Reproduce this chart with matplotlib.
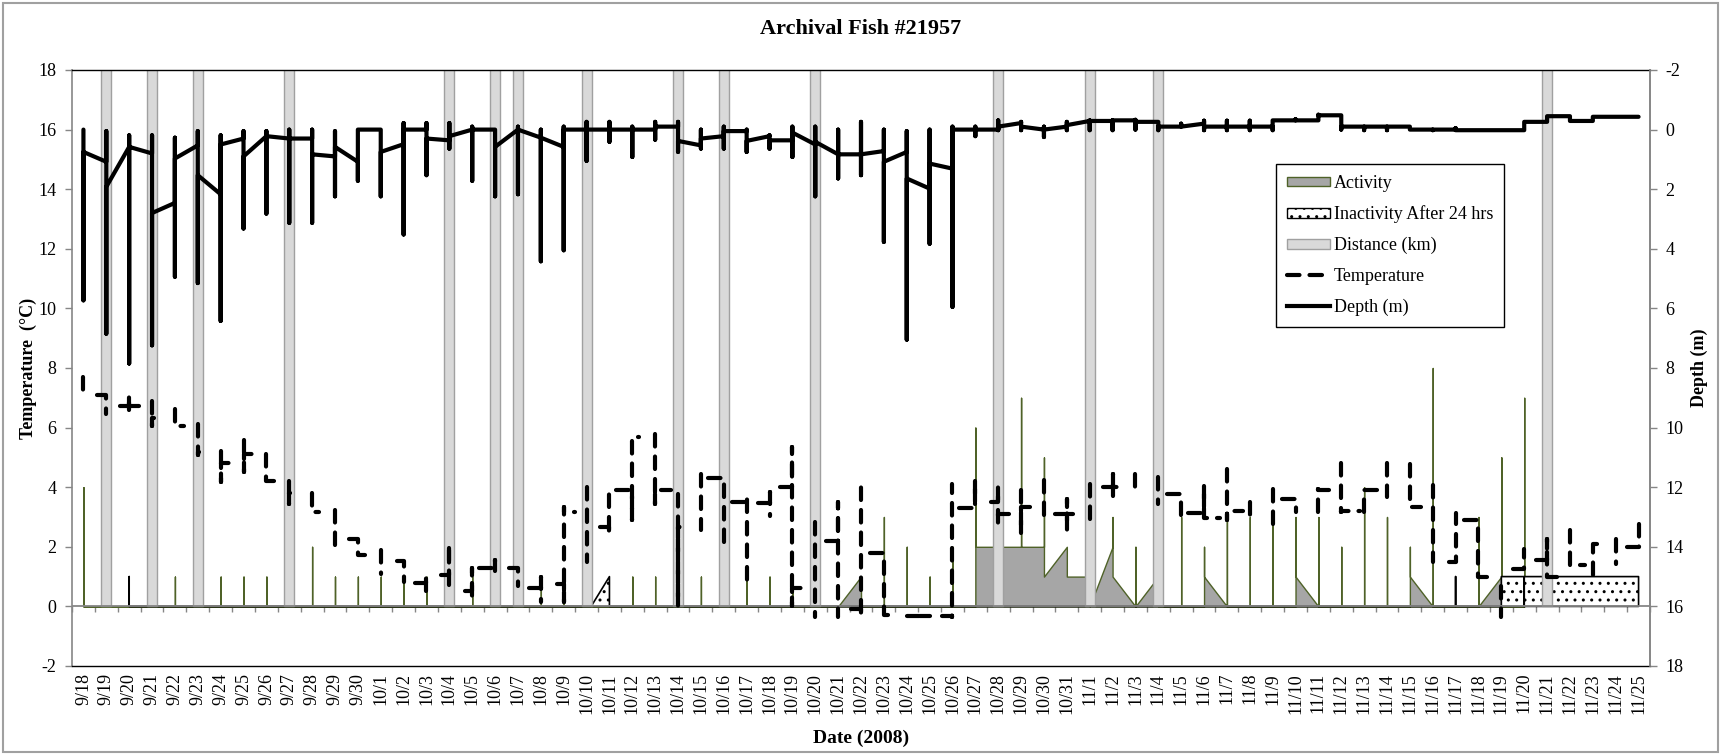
import matplotlib
matplotlib.use('Agg')
import matplotlib.pyplot as plt
import matplotlib.patches as mpatches
import matplotlib.lines as mlines
import numpy as np
import pandas as pd

plt.rcParams['font.family'] = ['Liberation Serif', 'DejaVu Serif']
plt.rcParams['hatch.linewidth'] = 1.0
plt.rcParams['axes.unicode_minus'] = False

# Dni pomiarowe 9/18 - 11/25 (2008)
dates = pd.date_range('2008-09-18', '2008-11-25')
date_labels = [f'{d.month}/{d.day}' for d in dates]

# Dystans (km) - slupki poza skala osi
distance_day = [1, 3, 5, 9, 16, 18, 19, 22, 26, 28, 32, 40, 44, 47, 64]
distance_km = [20, 20, 20, 20, 20, 20, 20, 20, 20, 20, 20, 20, 20, 20, 20]

# Aktywnosc (punkty wykresu obszarowego)
act_day = [0, 0, 0, 4, 4, 4, 6, 6, 6, 7, 7, 7, 8, 8, 8,
           10, 10, 10, 11, 11, 11, 12, 12, 12, 13, 13, 13, 14, 14, 14, 15, 15, 15,
           17, 17, 17, 20, 20, 20, 21, 21, 21, 24, 24, 24, 25, 25, 25, 27, 27, 27,
           29, 29, 29, 30, 30, 30, 31, 31, 31, 33, 34, 34, 35, 35, 35, 36, 36, 36,
           37, 37, 37, 38, 38, 38, 39, 39, 39, 41, 41, 41, 42, 42, 42, 43, 43, 44, 44,
           45, 45, 45, 46, 46, 46, 47, 47, 48, 48, 48, 49, 49, 49, 50, 50, 50,
           51, 51, 51, 52, 52, 52, 53, 53, 53, 54, 54, 54, 55, 55, 55, 56, 56, 56,
           57, 57, 57, 58, 58, 58, 59, 59, 59, 61, 61, 61, 62, 62, 62, 63, 63, 63]
act_val = [0, 4, 0, 0, 1, 0, 0, 1, 0, 0, 1, 0, 0, 1, 0,
           0, 2, 0, 0, 1, 0, 0, 1, 0, 0, 1, 0, 0, 1, 0, 0, 1, 0,
           0, 1, 0, 0, 1, 0, 0, 1, 0, 0, 1, 0, 0, 1, 0, 0, 1, 0,
           0, 1, 0, 0, 1, 0, 0, 1, 0, 0, 1, 0, 0, 3, 0, 0, 2, 0,
           0, 1, 0, 0, 2, 0, 0, 6, 2, 2, 7, 2, 2, 5, 1, 2, 1, 1, 0,
           2, 3, 1, 0, 2, 0, 1, 0, 0, 3, 0, 0, 2, 1, 0, 3, 0,
           0, 3, 0, 0, 3, 0, 0, 3, 1, 0, 3, 0, 0, 2, 0, 0, 4, 0,
           0, 3, 0, 0, 2, 1, 0, 8, 0, 0, 3, 0, 1, 5, 0, 0, 7, 0]

# Brak aktywnosci po 24 h
inact_day = [2, 2, 2, 22.2, 23, 23, 60, 60, 60, 62, 62, 63, 63, 63, 68, 68]
inact_val = [0, 1, 0, 0, 1, 0, 0, 1, 0, 0, 1, 1, 0, 1, 1, 0]

# Temperatura (°C) - odczyty w kazdym dniu (pion) + krotkie poziome odcinki
temp_day = [
    [7.7, 6.97], [7.08, 6.47], [6.71, 7.08, 6.47, 6.71], [6.9, 6.07, 6.33],
    [6.63, 6.07], [6.13, 5.07, 5.18], [5.23, 4.17, 4.81], [5.6, 4.5, 5.1],
    [5.1, 4.2], [4.2, 3.45, 3.8], [3.8, 3.17], [3.22, 1.71],
    [2.27, 1.71], [1.88, 1.1], [1.52, 0.82], [0.78, 1.04, 0.31],
    [1.07, 2.1, 0.37], [0.51, 1.3, 0.31], [1.3, 1.57, 0.96], [1.3, 0.7],
    [0.62, 0.98, 0.15], [0.76, 0.15, 3.33, 3.17], [4.0, 1.49], [2.66, 2.38, 4.0],
    [3.92, 2.89, 5.68], [5.79, 3.45, 3.92], [3.78, 0.0, 2.66], [4.45, 2.55],
    [4.32, 2.16], [3.5, 3.67, 0.7], [3.48, 3.84, 3.05], [4.0, 5.35, 0.0, 0.63],
    [2.83, -0.36], [2.2, 3.5, -0.36], [-0.08, -0.36, 4.23], [1.8, -0.3],
    [-0.33], [-0.33], [-0.33, -0.36, 4.1], [3.3, 4.23, 3.45],
    [3.5, 4.0, 2.77, 3.11], [3.92, 2.44, 3.33], [4.23, 2.83], [3.11, 3.61, 2.55, 3.11],
    [4.12, 2.77], [4.0, 4.45, 3.72, 4.0], [4.45, 3.89], [4.34, 3.45],
    [3.78, 2.89], [3.13, 4.06, 3.0, 2.98], [4.62, 2.89, 3.19], [3.5, 2.89],
    [3.95, 2.77], [3.61, 3.17], [3.17, 3.95, 3.89], [4.81, 3.17, 3.19],
    [3.17, 3.92], [4.81, 3.67], [4.77, 3.33], [4.06, 1.49],
    [1.49, 3.13], [2.91, 2.55, 0.98], [0.7, -0.36], [1.26, 1.94],
    [1.57, 2.27, 1.2, 0.98], [2.55, 1.77, 1.4], [1.04, 2.1], [2.27, 1.43],
    [1.99, 2.55, 2.94],
]
# dlugosc odcinka w lewo / w prawo (w dniach)
temp_left = [0, 0.42, 0.4, 0, 0, 0, 0, 0, 0, 0, 0, 0,
             0.4, 0, 0.3, 0.5, 0.35, 0.3, 0.7, 0.4, 0.5, 0.3, 0, 0.4,
             0.7, 0, 0, 0, 0.7, 0.65, 0.5, 0.55, 0, 0.55, 0.45, 0.6,
             0, 0.4, 0.45, 0.7, 0.3, 0, 0, 0.5, 0, 0.4, 0, 0,
             0.6, 0.7, 0, 0, 0, 0.6, 0, 0, 0, 0, 0, 0,
             0.3, 0.65, 0, 0.5, 0.5, 0, 0, 0, 0.5]
temp_right = [0, 0, 0.45, 0.4, 0.4, 0.3, 0.6, 0.6, 0.6, 0.4, 0.3, 0,
              0.3, 0, 0, 0, 0, 0, 0, 0, 0, 0.5, 0, 0,
              0.3, 0.7, 0.5, 0, 0, 0, 0, 0.7, 0, 0, 0, 0.55,
              0.6, 0, 0, 0, 0.9, 0.6, 0, 0.3, 0, 0.6, 0, 0,
              0, 0.7, 0.7, 0.2, 0, 0, 0.6, 0.8, 0.6, 0, 0.5, 0,
              0, 0.65, 0, 0, 0.6, 0.65, 0.2, 0, 0]

# Glebokosc (m) - kolejne odczyty w kazdym dniu
depth_day = [
    [0.0, 5.73, 0.75], [1.08, 0.05, 6.85, 1.92], [0.58, 0.19, 7.85, 0.58], [0.8, 0.19, 7.24, 2.8],
    [2.46, 0.27, 4.94, 0.97], [0.53, 0.05, 5.15, 1.53], [2.17, 0.19, 6.42, 0.5], [0.3, 0.05, 3.32, 0.9],
    [0.22, 0.05, 2.82, 0.22], [0.3, 0.0, 3.13, 0.3], [0.3, 0.0, 3.13, 0.83], [0.9, 0.05, 2.24, 0.58],
    [1.08, 1.72, 0.0], [0.0, 2.24, 0.75], [0.49, -0.22, 3.52, 0.0], [0.0, -0.22, 1.53, 0.3],
    [0.36, -0.22, 0.64, 0.22], [0.0, -0.1, 1.72, 0.0], [0.0, 2.24, 0.58], [0.0, -0.1, 2.17, 0.0],
    [0.27, 0.0, 4.42, 0.27], [0.58, -0.1, 4.05, 0.0], [0.0, -0.26, 1.05, 0.0], [0.0, -0.26, 0.41, 0.0],
    [0.0, -0.1, 0.92, 0.0], [0.0, -0.26, 0.34, -0.1], [-0.1, -0.26, 0.75, 0.38], [0.53, 0.0, 0.64, 0.3],
    [0.22, -0.1, 0.64, 0.05], [0.05, 0.0, 0.75, 0.38], [0.22, 0.19, 0.64, 0.36], [0.36, -0.1, 0.92, 0.1],
    [0.5, -0.1, 2.24, 0.41], [0.83, 0.0, 1.64, 0.83], [0.83, -0.26, 1.53, 0.83], [0.72, 0.0, 3.77, 1.08],
    [0.75, 0.05, 7.05, 1.64], [1.98, 0.0, 3.83, 1.14], [1.31, -0.1, 5.95, 0.0], [0.0, -0.1, 0.22, 0.0],
    [0.0, -0.31, 0.02, -0.1], [-0.22, -0.26, 0.02, -0.1], [0.0, -0.1, 0.25, 0.0], [-0.1, -0.26, 0.02, -0.15],
    [-0.29, -0.31, 0.02, -0.29], [-0.29, -0.31, 0.02, -0.31], [-0.31, -0.33, 0.0, -0.26], [-0.26, -0.26, 0.02, -0.1],
    [-0.1, -0.2, -0.1], [-0.2, -0.3, 0.02, -0.1], [-0.1, -0.3, 0.02, -0.1], [-0.1, -0.3, 0.02, -0.1],
    [-0.1, 0.02, -0.31], [-0.31, -0.35, -0.31], [-0.31, -0.5, -0.48], [-0.48, 0.0, -0.1],
    [-0.1, 0.02, -0.1], [-0.1, 0.02, -0.1], [-0.1, 0.0], [0.0, 0.02, 0.0],
    [0.0, -0.05, 0.02], [0.02], [0.02], [0.02, -0.26],
    [-0.26, -0.45], [-0.45, -0.29], [-0.29, -0.43], [-0.43],
    [-0.43],
]

olive = '#4F6228'
axis_gray = '#868686'

# sciezka temperatury: kazdy dzien osobno
tx, ty = [], []
for i, vals in enumerate(temp_day):
    if temp_left[i] > 0:
        tx.append(i - temp_left[i]); ty.append(vals[0])
    tx += [i] * len(vals); ty += vals
    if temp_right[i] > 0:
        tx.append(i + temp_right[i]); ty.append(vals[-1])
    tx.append(np.nan); ty.append(np.nan)

dx = [i for i, v in enumerate(depth_day) for _ in v]
dy = [x for v in depth_day for x in v]

fig = plt.figure(figsize=(17.21, 7.54), dpi=100)
ax = fig.add_axes([72 / 1721, 88 / 754, 1578 / 1721, 596 / 754])

# obszary aktywnosci i bezczynnosci
ax.fill_between(act_day, act_val, 0, facecolor='#A6A6A6', edgecolor=olive, linewidth=1, zorder=1)
ax.fill_between(inact_day, inact_val, 0, facecolor='white', edgecolor='black', hatch='..',
                linewidth=1.2, zorder=1.5)

# slupki dystansu
ax.bar(distance_day, distance_km, width=0.44, color='#D9D9D9', edgecolor='#A0A0A0', linewidth=1, zorder=2)

# temperatura
ax.plot(tx, ty, color='black', linewidth=3, linestyle=(0, (3.0, 2.4)), dash_capstyle='round',
        solid_joinstyle='round', zorder=4)

ax.set_xlim(-0.5, 68.5)
ax.set_ylim(-2, 18)
ax.set_yticks(range(-2, 19, 2))
ax.set_xticks(range(len(date_labels)))
ax.set_xticklabels(date_labels, rotation=90)
ax.tick_params(axis='x', length=0, pad=5, labelsize=13)
ax.tick_params(axis='y', direction='out', length=5, width=1, color=axis_gray, labelsize=13, pad=6)
for s in ['top', 'bottom']:
    ax.spines[s].set_color('black')
    ax.spines[s].set_linewidth(1)
for s in ['left', 'right']:
    ax.spines[s].set_color(axis_gray)
    ax.spines[s].set_linewidth(1.2)

ax.axhline(0, color=axis_gray, linewidth=1.3, zorder=3)
sec = ax.secondary_xaxis(0.1)
sec.set_xticks(np.arange(-0.5, len(date_labels), 1), labels=[])
sec.tick_params(direction='out', length=4, width=1, color=axis_gray)
sec.spines['bottom'].set_visible(False)

ax.set_ylabel('Temperature  (°C)', fontsize=13, fontweight='bold')
ax.yaxis.set_label_coords(-0.022, 0.5)
ax.set_xlabel('Date (2008)', fontsize=14, fontweight='bold')
ax.xaxis.set_label_coords(0.5, -0.107)

# glebokosc na prawej osi
ax2 = ax.twinx()
ax2.plot(dx, dy, color='black', linewidth=3, solid_capstyle='round', solid_joinstyle='round', zorder=5)
ax2.set_ylim(18, -2)
ax2.set_yticks(range(-2, 19, 2))
ax2.tick_params(axis='y', direction='out', length=5, width=1, color=axis_gray, labelsize=13, pad=6)
for s in ['top', 'bottom', 'left']:
    ax2.spines[s].set_visible(False)
ax2.spines['right'].set_color(axis_gray)
ax2.spines['right'].set_linewidth(1.2)
ax2.set_ylabel('Depth (m)', fontsize=13, fontweight='bold', rotation=90)
ax2.yaxis.set_label_coords(1.026, 0.5)

handles = [
    mpatches.Patch(facecolor='#A6A6A6', edgecolor=olive, label='Activity'),
    mpatches.Patch(facecolor='white', edgecolor='black', hatch='..', label='Inactivity After 24 hrs'),
    mpatches.Patch(facecolor='#D9D9D9', edgecolor='#A0A0A0', label='Distance (km)'),
    mlines.Line2D([], [], color='black', linewidth=3, linestyle=(0, (3.0, 2.4)), dash_capstyle='round',
                  label='Temperature'),
    mlines.Line2D([], [], color='black', linewidth=3, label='Depth (m)'),
]
leg = ax2.legend(handles=handles, loc='upper left', bbox_to_anchor=(0.763, 0.842), fontsize=13,
                 frameon=True, fancybox=False, framealpha=1, edgecolor='black', borderpad=0.6,
                 labelspacing=0.75, handlelength=2.4, handleheight=0.45, handletextpad=0.2,
                 borderaxespad=0)
leg.get_frame().set_linewidth(1)

fig.text(0.5, 0.9615, 'Archival Fish #21957', ha='center', va='center', fontsize=16, fontweight='bold')
fig.patches.append(mpatches.Rectangle((0.002, 0.003), 0.996, 0.993, transform=fig.transFigure,
                                      fill=False, edgecolor='#A0A0A0', linewidth=1.5))

fig.savefig('out.png', dpi=100)
